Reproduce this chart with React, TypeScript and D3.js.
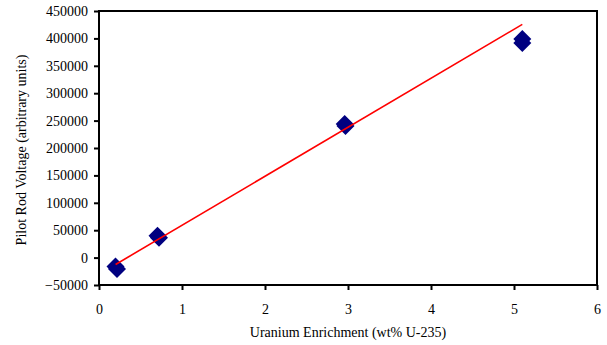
import React, { useRef, useEffect } from 'react'
import * as d3 from 'd3'

// measurements (two readings per sample)
const enrichment = [0.199, 0.217, 0.705, 0.723, 2.96, 2.97, 5.1, 5.1]
const voltage = [-16200, -20800, 40000, 36300, 243800, 240100, 398900, 391600]

// fitted trendline endpoints
const trendX = [0.2, 5.1]
const trendY = [-12500, 425500]

const xTicks = [0, 1, 2, 3, 4, 5, 6]
const yTicks = [-50000, 0, 50000, 100000, 150000, 200000, 250000, 300000, 350000, 400000, 450000]

const xTitle = 'Uranium Enrichment (wt% U-235)'
const yTitle = 'Pilot Rod Voltage (arbitrary units)'

export default function App() {
  const svgRef = useRef<SVGSVGElement>(null)

  useEffect(() => {
    const svg = d3.select(svgRef.current)
    svg.selectAll('*').remove()

    const width = 607, height = 345
    const left = 99, right = 597, top = 11, bottom = 285
    const font = '"Liberation Serif", "Times New Roman", serif'

    svg.attr('width', width).attr('height', height)

    const x = d3.scaleLinear().domain([0, 6]).range([left, right])
    const y = d3.scaleLinear().domain([-50000, 450000]).range([bottom, top])

    const g = svg.append('g')

    // markers
    const diamond = d3.symbol().type(d3.symbolSquare).size(2 * 9 * 9)
    g.selectAll('path.pt')
      .data(enrichment.map((e, i) => [e, voltage[i]]))
      .join('path')
      .attr('class', 'pt')
      .attr('d', diamond())
      .attr('transform', d => `translate(${x(d[0])},${y(d[1])}) rotate(45)`)
      .attr('fill', '#000080')

    // trendline
    g.append('line')
      .attr('x1', x(trendX[0])).attr('y1', y(trendY[0]))
      .attr('x2', x(trendX[1])).attr('y2', y(trendY[1]))
      .attr('stroke', '#ff0000').attr('stroke-width', 1.6)

    // frame
    svg.append('rect')
      .attr('x', left).attr('y', top)
      .attr('width', right - left).attr('height', bottom - top)
      .attr('fill', 'none').attr('stroke', '#000').attr('stroke-width', 2)

    const xAxis = svg.append('g').attr('transform', `translate(0,${bottom})`)
      .call(d3.axisBottom(x).tickValues(xTicks).tickSize(5).tickPadding(14).tickFormat(d3.format('d')))
    xAxis.select('.domain').remove()
    xAxis.selectAll('.tick line').attr('stroke', '#000').attr('stroke-width', 2)
    xAxis.selectAll('text').attr('font-family', font).attr('font-size', '14px').attr('fill', '#000')

    const yAxis = svg.append('g').attr('transform', `translate(${left},0)`)
      .call(d3.axisLeft(y).tickValues(yTicks).tickSize(5).tickPadding(6).tickFormat(d3.format('d')))
    yAxis.select('.domain').remove()
    yAxis.selectAll('.tick line').attr('stroke', '#000').attr('stroke-width', 2)
    yAxis.selectAll('text').attr('font-family', font).attr('font-size', '14px').attr('fill', '#000')

    svg.append('text')
      .attr('x', 348).attr('y', 337)
      .attr('text-anchor', 'middle')
      .attr('font-family', font).attr('font-size', '14px')
      .text(xTitle)

    svg.append('text')
      .attr('transform', 'rotate(-90)')
      .attr('x', -150).attr('y', 26)
      .attr('text-anchor', 'middle')
      .attr('font-family', font).attr('font-size', '14px')
      .text(yTitle)
  }, [])

  return <svg ref={svgRef} style={{ position: 'absolute', left: 0, top: 0, background: '#fff' }} />
}
